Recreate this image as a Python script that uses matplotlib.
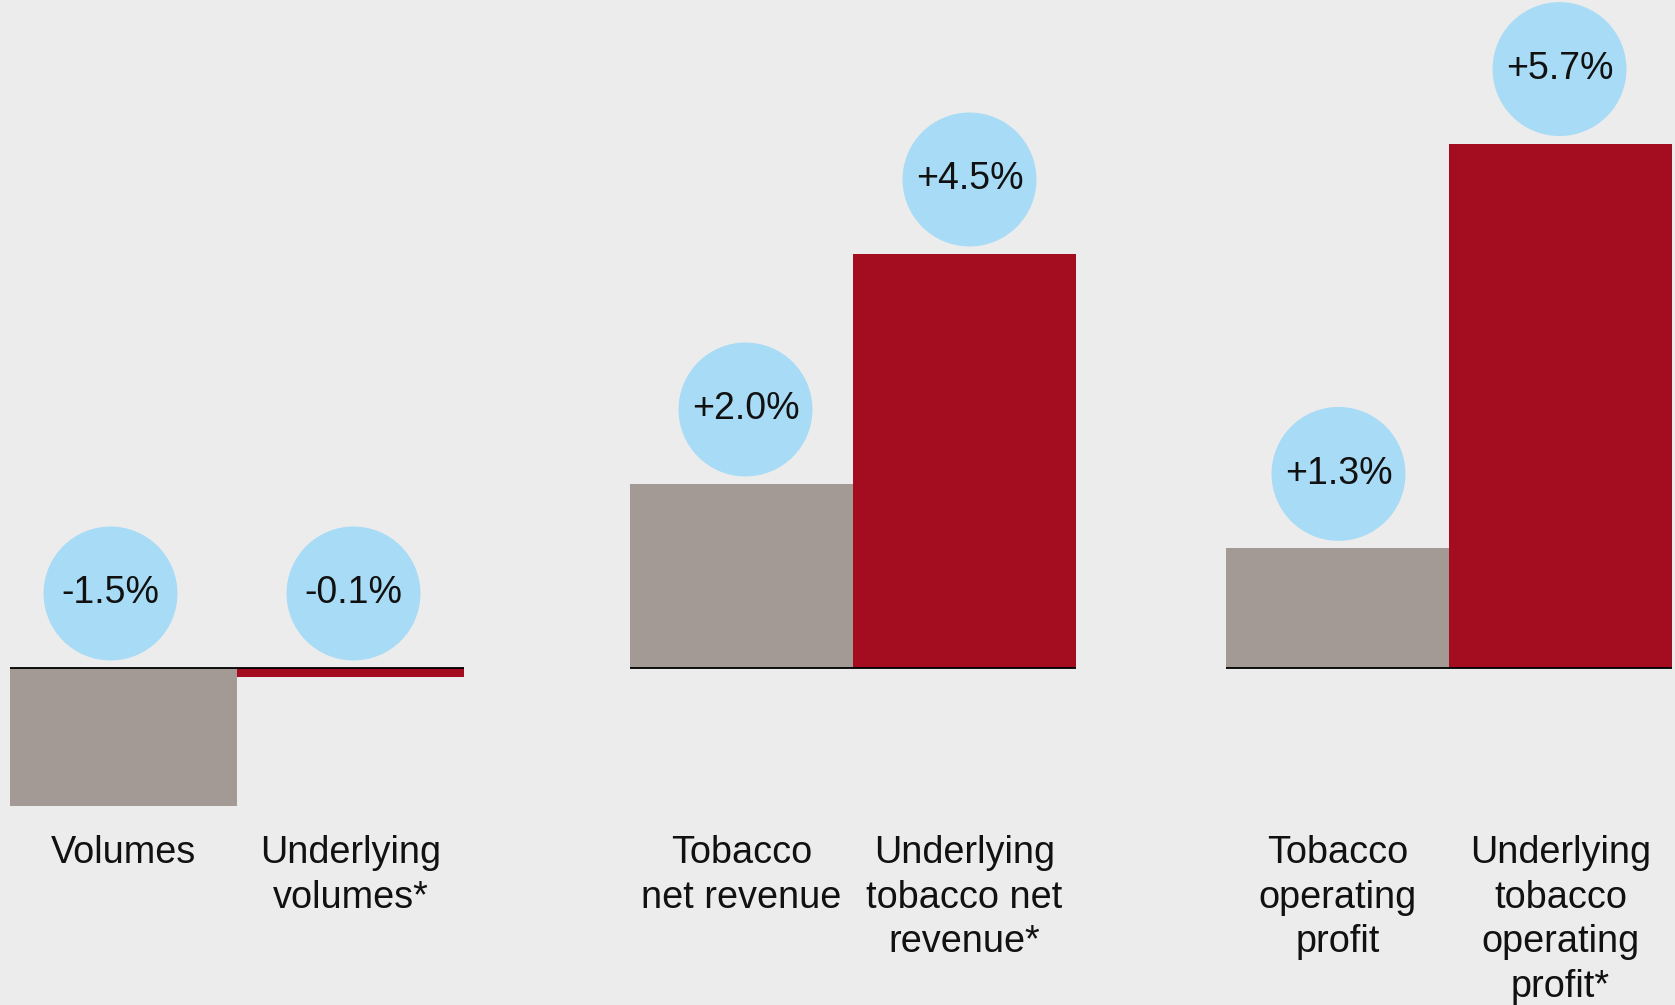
import numpy as np
import matplotlib.pyplot as plt

plt.rcParams['font.family'] = ['Liberation Sans', 'DejaVu Sans']

# year-on-year change, %
reported = [-1.5, 2.0, 1.3]
underlying = [-0.1, 4.5, 5.7]
reported_labels = ['Volumes', 'Tobacco\nnet revenue', 'Tobacco\noperating\nprofit']
underlying_labels = ['Underlying\nvolumes*', 'Underlying\ntobacco net\nrevenue*',
                     'Underlying\ntobacco\noperating\nprofit*']

bg = '#ececec'
grey = '#a39a95'
red = '#a40d1f'
bubble = '#a8dbf5'

fig = plt.figure(figsize=(16.75, 10.05), dpi=100, facecolor=bg)
ax = fig.add_axes([0, 0, 1, 1])
ax.set_facecolor(bg)
ax.set_xlim(0, 1675)
ax.set_ylim(-3.663, 7.261)
ax.axis('off')

# group layout (x in pixels)
lefts = [10, 630, 1226]
widths = [227, 223, 223]
bubble_dx = [(-13, 3), (4, 5), (1, -1)]

for left, w, dx, r, u, rl, ul in zip(lefts, widths, bubble_dx, reported, underlying,
                                     reported_labels, underlying_labels):
    ax.bar(left, r, width=w, align='edge', color=grey, zorder=2)
    ax.bar(left + w, u, width=w, align='edge', color=red, zorder=2)
    ax.hlines(0, left, left + 2 * w, color='black', lw=1.3, zorder=3)
    for xc, d, v, lab in [(left + w / 2, dx[0], r, rl), (left + 1.5 * w, dx[1], u, ul)]:
        yc = max(v, 0) + 0.81
        ax.scatter(xc + d, yc, s=9300, color=bubble, edgecolor='none', zorder=4)
        ax.text(xc + d, yc, f'{v:+.1f}%', ha='center', va='center', fontsize=27,
                color='#111111', zorder=5)
        ax.text(xc, -1.82, lab, ha='center', va='top', fontsize=27.3,
                linespacing=1.3, color='#111111')

fig.savefig('out.png', dpi=100, facecolor=bg)
